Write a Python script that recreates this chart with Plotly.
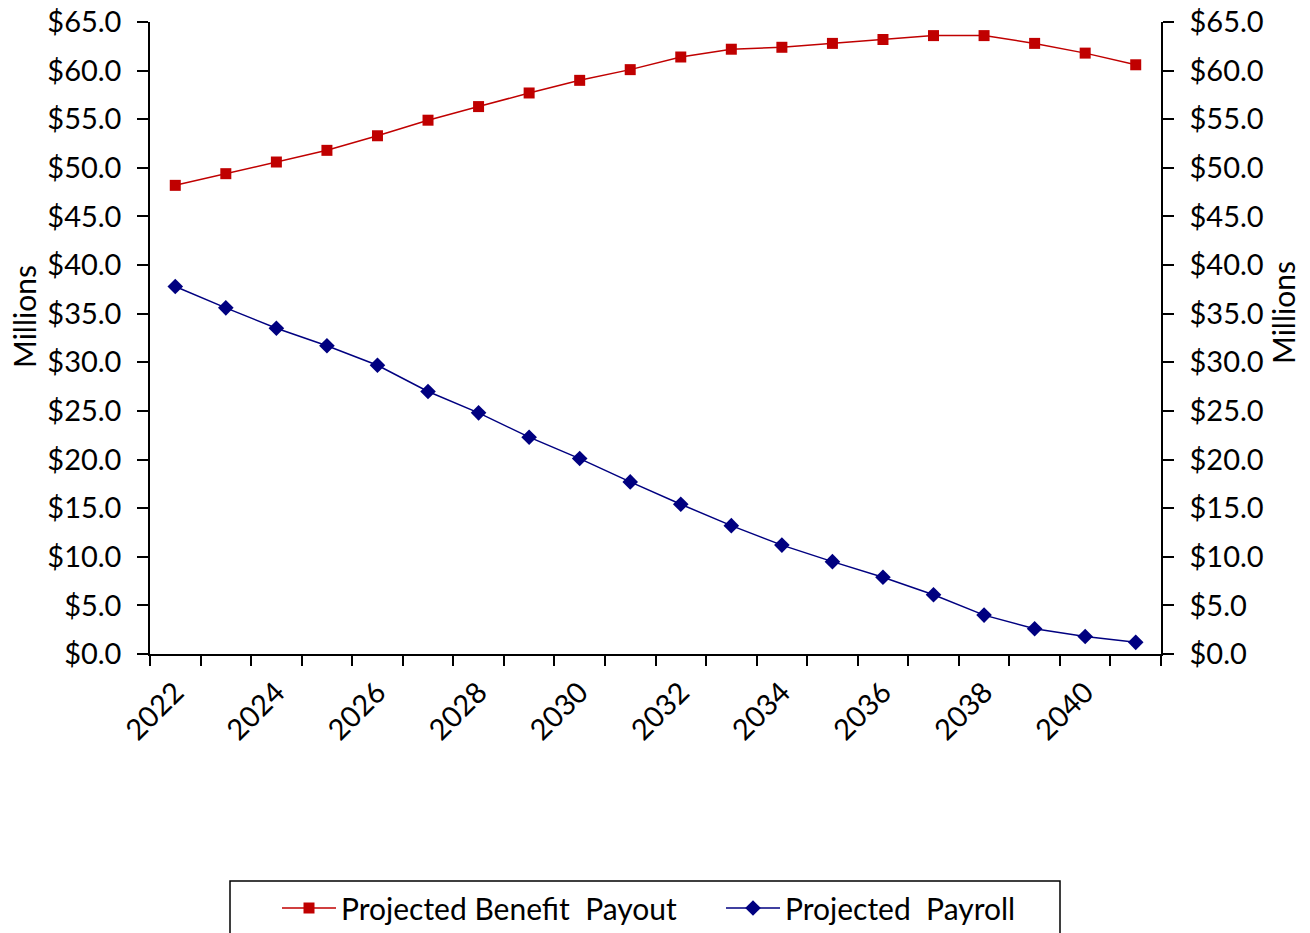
import plotly.graph_objects as go

years = list(range(2022, 2042))
benefit_payout = [48.2, 49.4, 50.6, 51.8, 53.3, 54.9, 56.3, 57.7, 59.0, 60.1,
                  61.4, 62.2, 62.4, 62.8, 63.2, 63.6, 63.6, 62.8, 61.8, 60.6]
payroll = [37.8, 35.6, 33.5, 31.7, 29.7, 27.0, 24.8, 22.3, 20.1, 17.7,
           15.4, 13.2, 11.2, 9.5, 7.9, 6.1, 4.0, 2.6, 1.8, 1.2]
x_tick_labels = [str(y) for y in years[::2]]
axis_title = "Millions"

FONT = "Lato"
RED = "#C00000"
BLUE = "#000080"

# figure fills the page (body margin removed in post_script)
W, H = 1310, 933
PL, PR, PT, PB = 150, 1161, 22, 654  # plot area in px
PW, PH = PR - PL, PB - PT

def px_x(x):
    return (x - PL) / PW

def px_y(y):
    return (PB - y) / PH

fig = go.Figure()
fig.add_trace(go.Scatter(
    x=years, y=benefit_payout, name="Projected Benefit  Payout",
    mode="lines+markers",
    line=dict(color=RED, width=1.5),
    marker=dict(symbol="square", size=11, color=RED),
))
fig.add_trace(go.Scatter(
    x=years, y=payroll, name="Projected  Payroll",
    mode="lines+markers", yaxis="y2",
    line=dict(color=BLUE, width=1.5),
    marker=dict(symbol="diamond", size=12, color=BLUE),
))

yaxis_style = dict(
    range=[0, 65], dtick=5, tick0=0,
    tickprefix="$", tickformat=".1f",
    showgrid=False, zeroline=False, automargin=False,
    showline=True, linecolor="black", linewidth=1.5,
    ticks="outside", ticklen=11, tickwidth=1.5, tickcolor="black",
    ticklabelstandoff=10, ticklabeloverflow="allow",
    tickfont=dict(family=FONT, size=29, color="black"),
)

fig.update_layout(
    width=W, height=H,
    margin=dict(l=PL, r=W - PR, t=PT, b=H - PB, autoexpand=False),
    paper_bgcolor="white", plot_bgcolor="white",
    font=dict(family=FONT, size=27, color="black"),
    xaxis=dict(
        range=[years[0] - 0.5, years[-1] + 0.5],
        tickmode="array", tickvals=years[::2], ticktext=x_tick_labels,
        tickangle=-45, ticks="", showgrid=False, zeroline=False,
        automargin=False,
        showline=True, linecolor="black", linewidth=1.5,
        tickfont=dict(family=FONT, size=29, color="black"),
        ticklabelstandoff=8,
        minor=dict(tick0=years[0] - 0.5, dtick=1, ticks="outside",
                   ticklen=10, tickwidth=1.5, tickcolor="black", showgrid=False),
    ),
    yaxis=dict(**yaxis_style, side="left"),
    yaxis2=dict(**yaxis_style, side="right", overlaying="y"),
    showlegend=True,
    legend=dict(
        orientation="h", x=px_x(277), xanchor="left",
        y=px_y(882), yanchor="top",
        borderwidth=0, bgcolor="rgba(0,0,0,0)",
        font=dict(family=FONT, size=30, color="black"),
        entrywidth=375, itemwidth=54,
    ),
    annotations=[
        dict(text=axis_title, xref="paper", yref="paper",
             x=px_x(24), y=px_y(317), xanchor="center", yanchor="middle",
             textangle=-90, showarrow=False,
             font=dict(family=FONT, size=30, color="black")),
        dict(text=axis_title, xref="paper", yref="paper",
             x=px_x(1283), y=px_y(313), xanchor="center", yanchor="middle",
             textangle=-90, showarrow=False,
             font=dict(family=FONT, size=30, color="black")),
    ],
    shapes=[dict(
        type="rect", xref="paper", yref="paper",
        x0=px_x(230), x1=px_x(1060),
        y0=px_y(881), y1=px_y(960),
        line=dict(color="black", width=1.5), fillcolor="rgba(0,0,0,0)",
        layer="below",
    )],
)

fig.write_html(
    "out.html",
    config={"displayModeBar": False},
    post_script="document.body.style.margin='0';document.body.style.overflow='hidden';",
)
